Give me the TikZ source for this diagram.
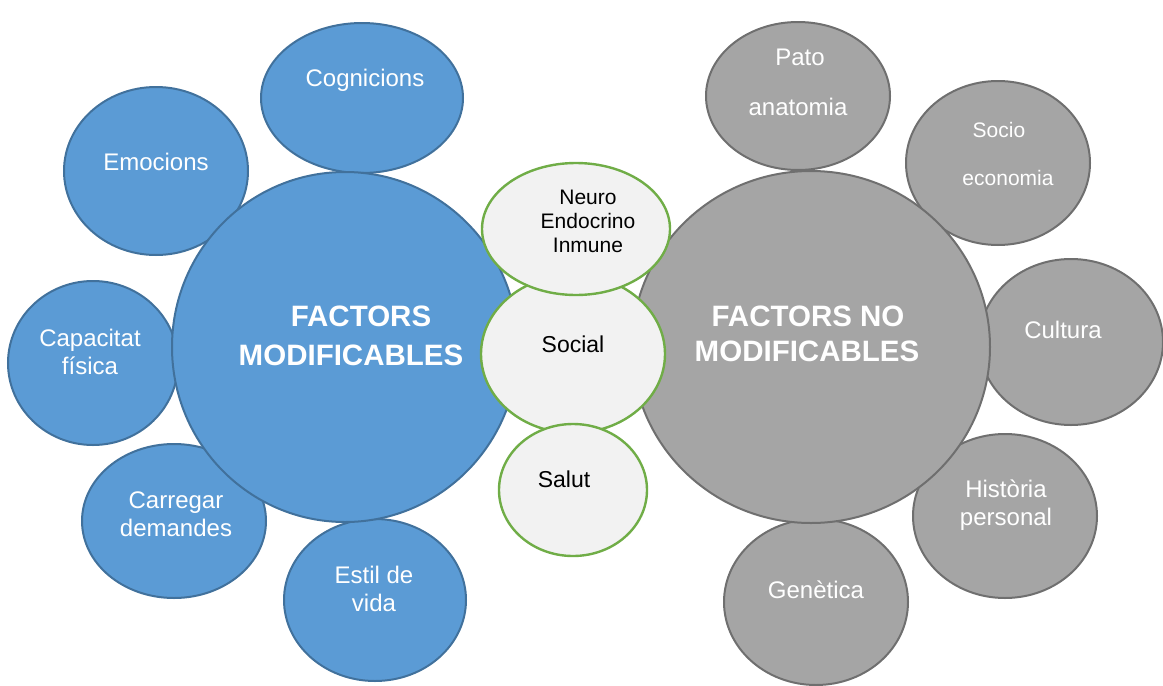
\documentclass[tikz,border=0pt]{standalone}
\usepackage{fontspec}
\setmainfont{Liberation Sans}
\usetikzlibrary{shapes.geometric}
\definecolor{bfill}{HTML}{5B9BD5}
\definecolor{bdraw}{HTML}{41719C}
\definecolor{gfill}{HTML}{A5A5A5}
\definecolor{gdraw}{HTML}{6F6F6F}
\definecolor{lfill}{HTML}{F2F2F2}
\definecolor{ldraw}{HTML}{70AD47}
\begin{document}
\begin{tikzpicture}[x=1pt,y=-1pt,
  blob/.style={ellipse,inner sep=0pt,outer sep=0pt,line width=2pt},
  bluec/.style={blob,fill=bfill,draw=bdraw},
  grayc/.style={blob,fill=gfill,draw=gdraw},
  greenc/.style={blob,fill=lfill,draw=ldraw,line width=2.4pt},
  wt/.style={text=white,font=\fontsize{24}{28}\selectfont,align=center,inner sep=0pt},
  bt/.style={text=black,font=\fontsize{23}{28}\selectfont,align=center,inner sep=0pt},
  bigt/.style={text=white,font=\bfseries\fontsize{29.5}{34}\selectfont,inner sep=0pt}
]
\useasboundingbox (0,0) rectangle (1163,686);
% blue satellites
\node[bluec,minimum width=202pt,minimum height=150pt] (cog) at (362,98) {};
\node[bluec,minimum width=184pt,minimum height=168pt] (emo) at (156,171) {};
\node[bluec,minimum width=170pt,minimum height=164pt] (cap) at (93,363) {};
\node[bluec,minimum width=184pt,minimum height=154pt] (car) at (174,521) {};
\node[bluec,minimum width=182pt,minimum height=162pt] (est) at (375,600) {};
% gray satellites
\node[grayc,minimum width=184pt,minimum height=148pt] (pat) at (798,96) {};
\node[grayc,minimum width=184pt,minimum height=164pt] (soc) at (998,163) {};
\node[grayc,minimum width=184pt,minimum height=166pt] (cul) at (1071,342) {};
\node[grayc,minimum width=184pt,minimum height=164pt] (his) at (1005,516) {};
\node[grayc,minimum width=184pt,minimum height=166pt] (gen) at (816,602) {};
% big circles
\node[bluec,minimum width=346pt,minimum height=350pt] (fm) at (345,347) {};
\node[grayc,minimum width=358pt,minimum height=352pt] (fnm) at (811,347) {};
% green centre
\node[greenc,minimum width=184pt,minimum height=158pt] (sol) at (573,354) {};
\node[greenc,minimum width=148pt,minimum height=132pt] (sal) at (573,490) {};
\node[greenc,minimum width=188pt,minimum height=132pt] (neu) at (576,229) {};
% texts
\node[wt] (cogT) at (365,80) {Cognicions};
\node[wt] (emoT) at (156,162) {Emocions};
\node[wt] (capT) at (90,352) {Capacitat\\física};
\node[wt] (carT) at (176,514) {Carregar\\demandes};
\node[wt] (estT) at (374,589) {Estil de\\vida};
\node[wt] (patT1) at (800,57) {Pato};
\node[wt] (patT2) at (798,107) {anatomia};
\node[wt,font=\fontsize{21}{24}\selectfont] (socT1) at (999,130) {Socio};
\node[wt,font=\fontsize{21}{24}\selectfont] (socT2) at (1008,178) {economia};
\node[wt] (culT) at (1063,330) {Cultura};
\node[wt] (hisT) at (1006,505) {Història\\personal};
\node[wt] (genT) at (816,590) {Genètica};
\node[bigt] (fmT1) at (361,316) {FACTORS};
\node[bigt] (fmT2) at (351,355) {MODIFICABLES};
\node[bigt] (fnmT1) at (808,316) {FACTORS NO};
\node[bigt] (fnmT2) at (807,351) {MODIFICABLES};
\node[bt,font=\fontsize{21}{24}\selectfont] (neuT) at (588,221) {Neuro\\Endocrino\\Inmune};
\node[bt] (solT) at (573,344) {Social};
\node[bt] (salT) at (564,479) {Salut};
\end{tikzpicture}
\end{document}
